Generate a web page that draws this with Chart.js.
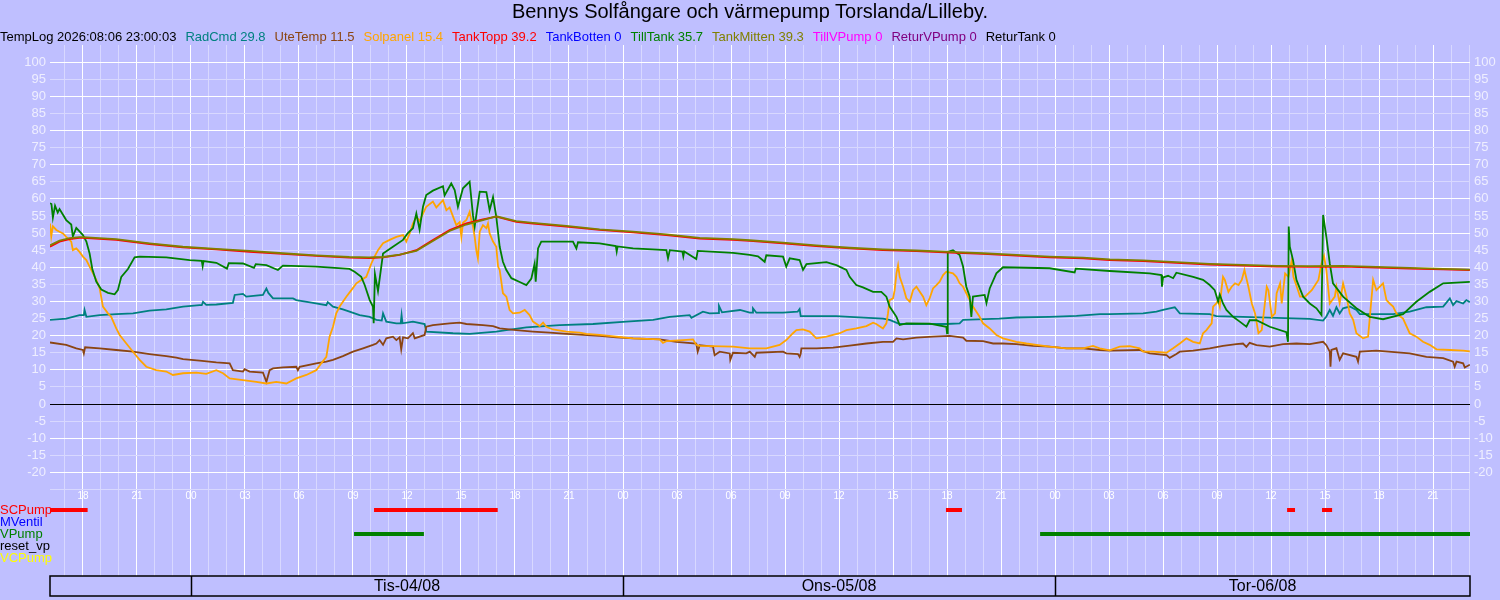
<!DOCTYPE html>
<html>
<head>
<meta charset="utf-8">
<script src="https://cdn.jsdelivr.net/npm/chart.js@4.4.0/dist/chart.umd.min.js"></script>
<style>
    body { margin: 0; background: #bfbfff; font-family: "Liberation Sans", Arial, sans-serif; }
    #wrap { position: relative; width: 1500px; height: 600px; overflow: hidden; }
    #chart { position: absolute; left: 0; top: 0; }
    #title { position: absolute; top: 0; left: 0; width: 1500px; text-align: center; font-size: 20px; line-height: 23px; color: #000; }
    #legend { position: absolute; top: 29px; left: 0; font-size: 13px; line-height: 15px; white-space: nowrap; }
    #legend span { margin-right: 9px; }
</style>
</head>
<body>
<div id="wrap">
    <canvas id="chart" width="1500" height="600"></canvas>
    <div id="title">Bennys Solfångare och värmepump Torslanda/Lilleby.</div>
    <div id="legend"></div>
</div>
<script>
// tid i timmar räknat från mån 03/08 00:00
const startHour = 16.17;
const endHour = 95.05;

const headerTime = "TempLog 2026:08:06 23:00:03";
const legendNames = ["RadCmd", "UteTemp", "Solpanel", "TankTopp", "TankBotten", "TillTank", "TankMitten", "TillVPump", "ReturVPump", "ReturTank"];
const legendValues = [29.8, 11.5, 15.4, 39.2, 0, 35.7, 39.3, 0, 0, 0];
const legendColors = ["#008080", "#8b4513", "#ffa500", "#ff0000", "#0000ff", "#008000", "#808000", "#ff00ff", "#800080", "#000000"];

const yTicks = [-25, -20, -15, -10, -5, 0, 5, 10, 15, 20, 25, 30, 35, 40, 45, 50, 55, 60, 65, 70, 75, 80, 85, 90, 95, 100];

const dayNames = ["Mån-03/08", "Tis-04/08", "Ons-05/08", "Tor-06/08"];
const dayStarts = [0, 24, 48, 72];

const radCmd = [
    [16.17,24.6],[17.07,25],[17.81,26],[18.05,26],[18.09,27.5],[18.19,25.5],[18.93,26],[19.85,26.3],[20.78,26.5],[21.7,27.3],
    [22.63,27.7],[23.56,28.5],[24.48,28.9],[24.6,28.9],[24.67,29.9],[24.85,29],[25.41,29.1],[26.33,29.6],[26.43,31.9],[26.89,32.2],
    [27.07,31.4],[28.0,31.9],[28.19,33.8],[28.3,32.5],[28.56,30.9],[29.67,30.9],[29.85,30.4],[30.78,29.6],[31.52,28.9],[31.6,29.8],
    [31.89,28.5],[32.44,27.7],[32.81,27.0],[33.37,26],[33.93,25.5],[34.3,24.6],[34.6,24.4],[34.67,26.5],[34.85,24.1],[35.41,23.6],
    [35.65,23.6],[35.7,26],[35.75,23.6],[36.33,24.1],[36.98,23.4],[37.07,21.2],[38.56,20.7],[39.48,20.5],[40.96,21.2],[41.52,21.6],
    [42.63,22.4],[44.48,23.1],[46.33,23.4],[48.19,24.1],[49.67,24.6],[50.59,25.5],[51.7,26],[51.8,25.2],[52.44,27],[52.81,26.5],
    [53.28,26.6],[53.33,28.7],[53.5,26.8],[54.5,27.5],[55.04,26.7],[55.2,26.7],[55.22,28],[55.41,26.7],[56.89,26.7],[57.7,27.0],
    [57.81,27.8],[57.87,25.7],[59.85,25.7],[60.59,25.5],[62.44,25.0],[62.81,24.6],[63.37,23.4],[65.96,23.4],[66.7,23.6],[66.89,24.6],
    [68.9,25.0],[69.85,25.3],[71.7,25.5],[73.19,25.8],[74.5,26.3],[75.04,26.3],[76.89,26.5],[77.63,27],[78.0,27.5],[78.37,28],
    [78.65,28.3],[78.93,26.5],[80.59,26.3],[80.96,25.7],[82.44,25.5],[84.3,25.2],[86.15,24.9],[86.89,24.4],[87.07,25.6],[87.26,27.5],
    [87.44,25.8],[87.63,28.3],[87.81,26.5],[88.0,28],[88.37,28.5],[88.74,27.5],[88.93,26.3],[90.78,26.3],[91.7,27],[92.63,28.3],
    [93.56,28.5],[93.93,30.9],[94.11,28.9],[94.3,30.1],[94.67,29.4],[94.85,30.4],[95.04,29.8]
];

const uteTemp = [
    [16.17,18],[17.07,17.3],[17.63,16.3],[18.0,15.8],[18.05,14.8],[18.12,16.6],[18.93,16.3],[19.85,15.8],[20.78,15.3],[21.7,14.6],
    [22.63,14],[23.19,13.6],[23.56,13.1],[24.48,12.7],[25.41,12.2],[26.15,11.9],[26.33,9.9],[26.89,9.5],[26.98,10.2],[27.26,9.5],
    [28.0,9.2],[28.19,6.5],[28.37,9.9],[28.56,10.4],[29.11,10.7],[29.85,10.9],[29.94,9.9],[30.04,10.9],[30.96,11.9],[31.52,12.4],
    [31.89,12.9],[32.44,14],[33.0,15.3],[33.56,16.3],[34.11,17.3],[34.3,17.7],[34.48,18.7],[34.67,17.3],[34.85,19.2],[35.22,19.7],
    [35.41,18.7],[35.59,19.5],[35.68,16],[35.78,19.5],[36.05,19.2],[36.33,20.7],[36.43,19.2],[36.98,20.2],[37.07,22.6],[37.44,23.1],
    [38.37,23.6],[38.93,23.8],[39.3,23.4],[40.22,23.1],[40.78,22.8],[41.15,22.1],[42.07,21.6],[43.0,21.2],[43.93,20.9],[44.85,20.5],
    [45.78,20.2],[46.7,19.9],[47.63,19.5],[48.56,19.2],[50.04,18.9],[50.96,18.2],[52.07,17.7],[52.15,15.3],[52.26,17.2],[53.0,16.8],
    [53.09,14.3],[53.37,15.3],[53.93,14.8],[53.96,12.9],[54.11,15],[54.85,14.8],[55.04,15.3],[55.32,13.8],[55.41,15],[56.89,15.3],
    [57.07,14.8],[57.72,14.6],[57.81,13.8],[57.87,14.7],[57.91,16.3],[58.74,16.3],[59.67,16.5],[60.59,17.1],[61.52,17.7],[62.44,18.2],
    [63.0,18.2],[63.19,19.2],[63.56,18.9],[64.3,19.4],[65.22,19.7],[66.15,19.9],[66.89,19.4],[67.07,18.5],[68.0,18.4],[68.56,17.7],
    [69.11,17.7],[69.85,17.5],[70.78,17.0],[71.7,16.8],[72.63,16.3],[73.56,16.3],[74.48,15.8],[75.04,15.6],[76.7,15.8],[77.26,14.8],
    [78.19,14.3],[78.37,13.5],[78.74,14.6],[78.93,15.3],[79.67,15.6],[80.59,16.3],[81.33,17.0],[82.07,17.5],[82.44,17.7],[82.63,16.7],
    [82.81,17.9],[83.19,17.2],[83.93,16.8],[84.67,17.5],[85.41,17.7],[86.15,17.5],[86.89,18.2],[87.07,17.2],[87.26,15.3],[87.3,10.9],
    [87.35,15.8],[87.63,16.3],[87.81,12.9],[88.0,14.8],[88.74,13.8],[88.83,12.4],[88.93,15.3],[89.85,15.6],[91.7,14.8],[92.63,13.8],
    [93.56,13.4],[94.11,12.4],[94.2,10.9],[94.3,12.4],[94.67,11.9],[94.76,10.7],[95.04,11.5]
];

const solpanel = [
    [16.17,52.8],[16.24,49],[16.33,52],[16.52,50.9],[16.7,50.4],[16.89,49.9],[17.07,48.9],[17.35,47.5],[17.44,45],[17.63,45.5],
    [17.81,44.5],[18.0,43.1],[18.19,42.1],[18.37,40.2],[18.56,38.2],[18.74,36.3],[18.93,33.8],[19.11,28.5],[19.39,26.5],[19.57,25.5],
    [19.85,22.1],[20.04,20.2],[20.41,17.7],[20.78,15.3],[21.15,12.9],[21.52,10.9],[22.07,9.9],[22.63,9.5],[23.0,8.5],[23.56,9.0],
    [24.3,9.2],[24.85,8.8],[25.41,9.9],[25.78,9.0],[26.15,7.5],[26.89,7.0],[27.63,6.5],[28.19,6.0],[28.74,6.5],[29.3,6.0],
    [29.85,7.5],[30.41,8.5],[30.96,9.9],[31.24,11.9],[31.52,13.8],[31.7,19.7],[31.89,22.6],[32.07,26.5],[32.26,28.5],[32.44,29.9],
    [32.63,31.4],[32.91,33.3],[33.19,35.3],[33.46,36.3],[33.74,37.2],[34.02,41.1],[34.2,43.1],[34.39,45],[34.67,47],[35.04,48],
    [35.41,48.9],[35.78,49.4],[35.96,47.5],[36.15,49.9],[36.33,52.8],[36.52,54.8],[36.7,53.5],[37.07,57.7],[37.44,59.2],[37.63,57.5],
    [38.0,59.6],[38.19,56.7],[38.37,57.5],[38.56,54.8],[38.74,52.3],[38.93,53.2],[39.02,48.9],[39.11,53],[39.3,53.8],[39.48,56.2],
    [39.57,53.8],[39.67,51.9],[39.76,48.9],[39.85,45],[39.94,42.6],[40.04,50.4],[40.22,52.3],[40.41,51.4],[40.5,52.8],[40.59,49.9],
    [40.78,47.5],[40.96,46],[41.06,40.2],[41.15,39.2],[41.33,32.4],[41.52,31.4],[41.7,27.5],[41.89,26.5],[42.26,26.7],[42.54,27.5],
    [42.81,26],[43.0,24.1],[43.37,22.8],[43.56,23.8],[43.74,22.6],[44.11,21.8],[44.85,21.2],[45.59,20.9],[45.96,20.5],[46.7,20.2],
    [47.63,19.7],[48.56,19.2],[50.04,18.9],[50.22,17.9],[50.41,18.4],[51.33,18.7],[51.89,18.9],[52.07,17.3],[52.26,17],[54.11,16.8],
    [55.04,16.3],[55.96,16.3],[56.7,17.3],[57.07,18.7],[57.44,20.7],[57.63,21.6],[58.0,21.8],[58.37,21.2],[58.74,19.2],[59.3,19.7],
    [59.67,20.2],[60.04,20.7],[60.41,21.6],[60.96,22.1],[61.52,22.8],[61.89,23.8],[62.07,23.4],[62.44,22.1],[62.63,23.6],[62.72,26.5],
    [62.81,30.4],[63.0,30.9],[63.09,33.3],[63.19,38.2],[63.28,40.6],[63.37,37.2],[63.56,34.3],[63.74,30.9],[63.93,29.9],[64.11,33.3],
    [64.3,34.3],[64.67,31.4],[64.85,28.9],[65.04,31],[65.22,33.8],[65.41,34.8],[65.59,35.8],[65.78,37.7],[65.96,38.7],[66.33,38.2],
    [66.52,37.2],[66.7,35.3],[66.89,34.3],[67.07,32.4],[67.26,30.4],[67.44,28.5],[67.63,27],[67.81,25.5],[68.0,23.6],[68.37,22.1],
    [68.74,20.2],[69.11,19.2],[69.48,18.7],[69.85,18.2],[70.41,17.7],[70.96,17.3],[71.7,16.8],[72.63,16.3],[73.56,16.3],[74.11,17.0],
    [74.48,16.3],[75.04,15.7],[75.59,16.8],[76.15,16.9],[76.7,16.3],[76.89,15.3],[77.44,15.3],[78.19,15.0],[78.56,16.3],[78.93,17.7],
    [79.3,19.2],[79.67,18.2],[80.04,17.7],[80.22,20.7],[80.41,21.6],[80.7,23.6],[80.78,28.5],[80.96,29.4],[81.06,30.4],[81.15,28.5],
    [81.24,33.3],[81.33,37.2],[81.43,36.3],[81.63,32.8],[81.81,34.3],[82.0,35.3],[82.19,34.8],[82.37,36.3],[82.52,39.2],[82.74,34.3],
    [82.93,29.4],[83.11,26.5],[83.3,20.7],[83.48,21.6],[83.57,25.5],[83.76,34.3],[83.85,33.3],[84.04,25.5],[84.22,26.5],[84.31,32.4],
    [84.5,35.3],[84.59,29.4],[84.78,38.2],[84.96,37.2],[85.15,42.1],[85.24,37.2],[85.43,34.3],[85.61,31.4],[85.89,31.4],[86.26,33.3],
    [86.63,36.3],[86.8,41.1],[86.94,43.3],[87.07,39.2],[87.26,29.4],[87.54,31.4],[87.63,34.3],[87.81,29.5],[88.0,35.3],[88.19,31.4],
    [88.37,26.5],[88.56,24.6],[88.74,20.7],[89.11,19.2],[89.39,19.7],[89.67,36.3],[89.85,33.3],[90.22,35.3],[90.41,30.4],[90.59,29.4],
    [90.78,28.5],[90.96,26.5],[91.33,25.0],[91.7,20.7],[92.07,19.7],[92.44,18.2],[92.81,17.3],[93.19,16.0],[93.93,15.8],[94.67,15.6],
    [95.04,15.4]
];

const tankTopp = [
    [16.17,46],[16.7,47.5],[17.26,48.2],[17.8,48.6],[18.0,48.6],[19.85,48],[21.7,46.8],[23.55,45.8],[25.4,45.2],[27.26,44.5],
    [29.1,43.9],[30.96,43.3],[32.8,42.8],[33.9,42.7],[34.67,42.9],[35.59,43.6],[36.52,45],[37.44,48],[38.37,50.9],[39.3,52.8],
    [40.22,54],[40.96,54.8],[42.07,53.3],[43.0,52.8],[44.85,51.9],[46.7,50.9],[48.56,50.2],[50.41,49.4],[52.26,48.4],[54.11,48],
    [55.04,47.7],[56.89,47],[58.74,46.2],[60.59,45.5],[62.44,45],[64.3,44.7],[66.15,44.3],[68.0,43.9],[69.85,43.4],[71.7,42.9],
    [73.56,42.6],[75.04,42.1],[76.89,41.8],[78.74,41.3],[80.59,40.8],[82.44,40.5],[84.3,40.2],[86.15,40.1],[88.0,40.2],[89.85,39.9],
    [91.7,39.6],[93.56,39.4],[95.04,39.2]
];

const tankMitten = [
    [16.17,46.4],[16.7,47.8],[17.26,48.5],[17.8,48.8],[18.0,48.8],[19.85,48.2],[21.7,47.0],[23.55,46.0],[25.4,45.4],[27.26,44.8],
    [29.1,44.1],[30.96,43.5],[32.8,43.0],[33.9,42.9],[34.67,43.0],[35.59,43.7],[36.52,44.8],[37.44,47.7],[38.37,50.6],[39.3,52.5],
    [40.22,53.8],[40.96,54.9],[42.07,53.5],[43.0,53.0],[44.85,52.1],[46.7,51.1],[48.56,50.4],[50.41,49.6],[52.26,48.6],[54.11,48.2],
    [55.04,47.9],[56.89,47.2],[58.74,46.4],[60.59,45.7],[62.44,45.2],[64.3,44.9],[66.15,44.5],[68.0,44.1],[69.85,43.6],[71.7,43.1],
    [73.56,42.8],[75.04,42.3],[76.89,42.0],[78.74,41.5],[80.59,41.0],[82.44,40.7],[84.3,40.4],[86.15,40.3],[88.0,40.4],[89.85,40.1],
    [91.7,39.8],[93.56,39.5],[95.04,39.3]
];

const tillTank = [
    [16.17,58.7],[16.25,58.5],[16.33,54.5],[16.45,58],[16.6,56],[16.7,57],[17.07,53.8],[17.35,52.5],[17.44,49],[17.63,51.5],
    [18.0,49.4],[18.19,47.5],[18.37,44],[18.52,39.5],[18.74,35.8],[19.02,33.5],[19.39,32.5],[19.76,32.1],[19.94,33.3],[20.13,37.2],
    [20.5,39.5],[20.87,42.9],[21.15,43.1],[22.63,42.9],[23.93,42.1],[24.6,41.9],[24.65,40.3],[24.7,41.8],[25.41,41.3],[26.0,39.6],
    [26.1,41.2],[26.89,41.1],[27.5,39.8],[27.6,40.9],[28.19,40.6],[28.83,39.2],[29.11,40.5],[30.96,40.2],[32.81,39.5],[33.09,38.7],
    [33.46,37.2],[33.65,34.8],[33.93,30.4],[34.11,28.5],[34.15,23.6],[34.22,38],[34.39,33],[34.67,44],[35.22,46],[35.78,48],
    [36.05,50],[36.33,51.4],[36.52,55.7],[36.7,51],[36.89,57.7],[37.07,61.1],[37.44,62.4],[38.0,63.7],[38.09,61],[38.46,64.5],
    [38.65,62.6],[38.83,57.7],[39.11,63.1],[39.48,65],[39.67,55],[39.76,51.9],[40.04,62.1],[40.41,62],[40.59,56.7],[40.78,60.5],
    [40.96,54.8],[41.15,46],[41.33,41.6],[41.52,39.2],[41.8,36.8],[42.26,35.7],[42.63,34.8],[42.91,36.7],[43.09,41],[43.15,35.8],
    [43.28,45.5],[43.46,47.5],[45.22,47.5],[45.41,45.5],[45.5,47.3],[46.7,47],[47.6,46.2],[47.65,44.6],[47.7,46.1],[48.56,45.5],
    [50.41,45],[50.5,42.6],[50.6,45],[51.3,44.6],[51.35,43.2],[51.4,44.6],[52.07,42.4],[52.15,44.8],[54.11,44.2],[55.04,43.6],
    [55.5,43.2],[55.87,41.6],[55.96,43.5],[56.89,43.1],[57.07,40.2],[57.26,42.6],[57.81,42.1],[58.0,39.2],[58.19,40.9],[59.3,41.5],
    [59.85,40.6],[60.41,39.2],[60.59,37.2],[60.96,34.8],[61.33,34.1],[61.89,32.8],[62.35,32.8],[62.63,31.4],[62.81,28.5],[63.19,25.5],
    [63.37,23.1],[63.74,23.6],[65.04,23.5],[65.96,22.6],[66.0,20.7],[66.04,44.5],[66.33,45],[66.7,43.6],[66.89,40.2],[67.07,34.3],
    [67.26,31.4],[67.35,25.5],[67.44,31.4],[68.09,31.9],[68.19,29.5],[68.37,33.8],[68.74,38.2],[69.11,40],[71.7,39.7],[73.09,38.5],
    [73.15,39.6],[75.04,38.9],[77.26,38.2],[77.91,37.7],[77.94,34.3],[78.0,37],[78.28,37.5],[78.56,36.8],[78.74,38.4],[79.67,37.2],
    [80.22,36.3],[80.59,34.8],[80.87,33.3],[81.06,30],[81.15,32],[81.33,29.4],[81.52,27.5],[81.89,25.5],[82.26,24.1],[82.63,22.6],
    [82.81,24.5],[83.19,24.5],[83.93,22.6],[84.85,21],[84.94,18.2],[84.98,51.9],[85.04,46],[85.22,42.1],[85.41,36.3],[85.78,31.4],
    [86.15,29.4],[86.52,28],[86.8,26],[86.89,55.3],[87.07,48.9],[87.26,41.1],[87.44,35.3],[88.0,31.4],[88.74,28],[89.48,25.5],
    [90.22,24.8],[91.33,26.3],[92.07,29.9],[92.81,32.8],[93.56,35.3],[95.04,35.7]
];

// pumpar: [start, stopp] i timmar
const pumpNames = ["SCPump", "MVentil", "VPump", "reset_vp", "VCPump"];
const pumpColors = ["#ff0000", "#0000ff", "#008000", "#000000", "#ffff00"];
const scPump = [[16.17, 18.26], [34.17, 41.04], [65.94, 66.83], [84.89, 85.33], [86.83, 87.39]];
const mVentil = [];
const vPump = [[33.06, 36.94], [71.17, 95.05]];
const resetVp = [];
const vcPump = [];
const pumpRuns = [scPump, mVentil, vPump, resetVp, vcPump];

const fontFamily = '"Liberation Sans", Arial, sans-serif';

// rubrikrad med aktuella värden
document.getElementById("legend").innerHTML =
    `<span style="color:#000">${headerTime}</span>` +
    legendNames
        .map((name, i) => `<span style="color:${legendColors[i]}">${name} ${legendValues[i]}</span>`)
        .join("");

const hourTicks = [];
for (let h = Math.ceil(startHour); h <= endHour; h++) hourTicks.push(h);

const lineSet = (label, color, data) => ({
    label,
    data: data.map(([x, y]) => ({ x, y })),
    borderColor: color,
    borderWidth: 1.8,
    pointRadius: 0,
    tension: 0,
    fill: false,
    yAxisID: "y",
});

const pumpSets = pumpNames.map((name, i) => {
    const row = 5.5 - i;
    const data = [];
    pumpRuns[i].forEach(([s, e]) => {
        data.push({ x: s, y: row }, { x: e, y: row }, { x: e, y: null });
    });
    return {
        label: name,
        data,
        borderColor: pumpColors[i],
        borderWidth: 4,
        borderCapStyle: "butt",
        pointRadius: 0,
        spanGaps: false,
        yAxisID: "yp",
    };
});

const rowLabels = {
    id: "rowLabels",
    afterDatasetsDraw(chart) {
        const { ctx } = chart;
        const yp = chart.scales.yp;
        ctx.save();
        ctx.font = `13px ${fontFamily}`;
        ctx.textAlign = "left";
        ctx.textBaseline = "middle";
        pumpNames.forEach((name, i) => {
            ctx.fillStyle = pumpColors[i];
            ctx.fillText(name, 0, yp.getPixelForValue(5.5 - i));
        });
        ctx.restore();
    },
};

const dayBoxes = {
    id: "dayBoxes",
    afterDraw(chart) {
        const { ctx, chartArea } = chart;
        const x = chart.scales.x;
        const top = chartArea.bottom;
        const h = 20;
        ctx.save();
        ctx.strokeStyle = "#000";
        ctx.lineWidth = 1.5;
        ctx.strokeRect(chartArea.left, top, chartArea.right - chartArea.left, h);
        ctx.font = `16px ${fontFamily}`;
        ctx.fillStyle = "#000";
        ctx.textAlign = "center";
        ctx.textBaseline = "middle";
        dayStarts.forEach((d, i) => {
            const s = Math.max(d, startHour);
            const e = Math.min(d + 24, endHour);
            if (e <= s) return;
            if (d > startHour) {
                const px = Math.round(x.getPixelForValue(d)) + 0.5;
                ctx.beginPath();
                ctx.moveTo(px, top);
                ctx.lineTo(px, top + h);
                ctx.stroke();
            }
            if (e - s >= 12) {
                ctx.fillText(dayNames[i], (x.getPixelForValue(s) + x.getPixelForValue(e)) / 2, top + h / 2 + 1);
            }
        });
        ctx.restore();
    },
};

const yGridColor = (ctx) => {
    const v = ctx.tick ? ctx.tick.value : 1;
    if (v === 0) return "#000000";
    return v % 10 === 0 ? "#ffffff" : "#d8d8ff";
};

const yAxis = (position, width) => ({
    position,
    min: -50.3,
    max: 105,
    afterBuildTicks: (scale) => { scale.ticks = yTicks.map((v) => ({ value: v })); },
    afterFit: (scale) => { scale.width = width; },
    ticks: {
        padding: 4,
        color: "#eeeeff",
        font: { size: 13, family: fontFamily },
        callback: (v) => (v === -25 ? "" : v),
    },
    grid: { color: yGridColor, drawTicks: false, drawOnChartArea: position === "left" },
    border: { display: false },
});

new Chart(document.getElementById("chart"), {
    type: "line",
    data: {
        datasets: [
            ...pumpSets,
            lineSet("TankMitten", "#808000", tankMitten),
            lineSet("TankTopp", "#ff0000", tankTopp),
            lineSet("TillTank", "#008000", tillTank),
            lineSet("Solpanel", "#ffa500", solpanel),
            lineSet("UteTemp", "#8b4513", uteTemp),
            lineSet("RadCmd", "#008080", radCmd),
        ],
    },
    options: {
        responsive: false,
        animation: false,
        layout: { padding: { top: 45, bottom: 24, left: 0, right: 0 } },
        plugins: { legend: { display: false }, tooltip: { enabled: false }, title: { display: false } },
        scales: {
            x: {
                type: "linear",
                min: startHour,
                max: endHour,
                position: { y: -25 },
                afterFit: (scale) => { scale.height = 0; },
                afterBuildTicks: (scale) => { scale.ticks = hourTicks.map((v) => ({ value: v })); },
                ticks: {
                    autoSkip: false,
                    maxRotation: 0,
                    padding: 1,
                    color: "#ffffff",
                    font: { size: 10, family: fontFamily },
                    callback: (v) => (v % 3 === 0 ? String(v % 24).padStart(2, "0") : ""),
                },
                grid: {
                    color: (ctx) => (ctx.tick && ctx.tick.value % 3 === 0 ? "#ffffff" : "#d8d8ff"),
                    drawTicks: false,
                },
                border: { display: false },
            },
            y: yAxis("left", 50),
            y2: yAxis("right", 30),
            yp: { type: "linear", display: false, min: 0, max: 44.25 },
        },
    },
    plugins: [rowLabels, dayBoxes],
});
</script>
</body>
</html>
